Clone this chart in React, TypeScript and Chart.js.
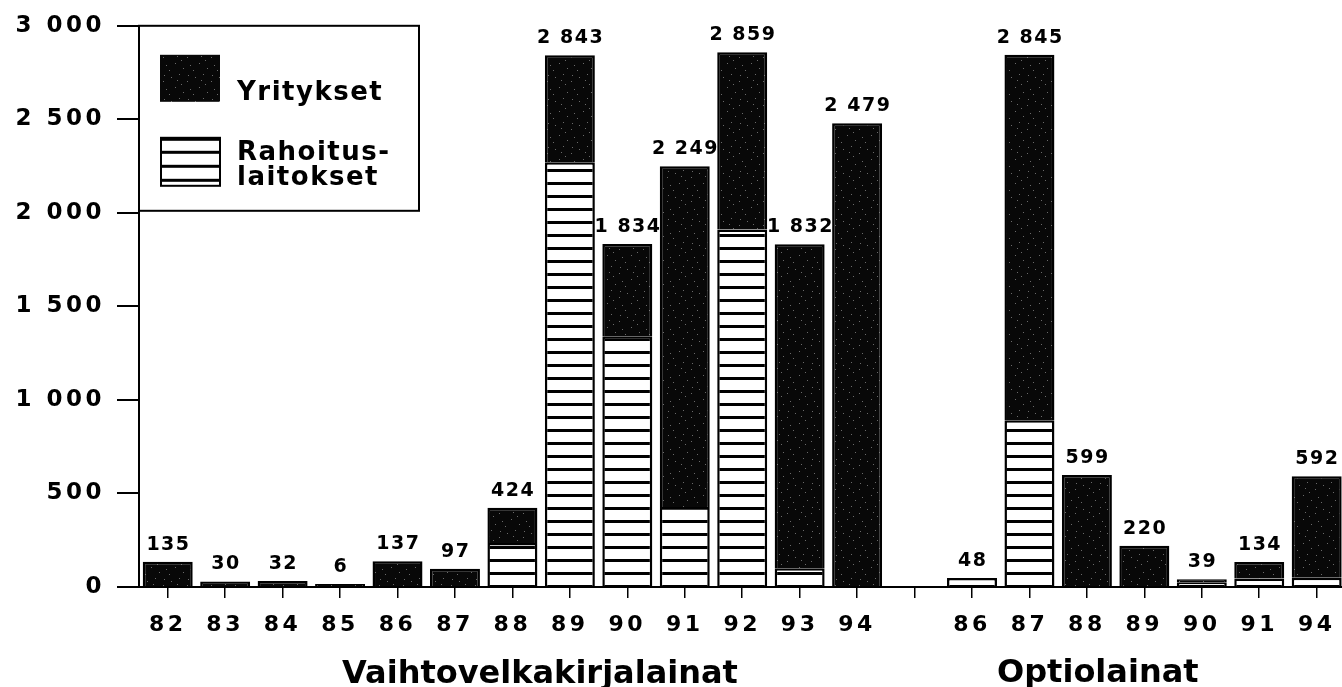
import React, { useEffect, useRef } from 'react';
import { Chart, registerables } from 'chart.js';

Chart.register(...registerables);

const categories = ['82', '83', '84', '85', '86', '87', '88', '89', '90', '91', '92', '93', '94', '', '86', '87', '88', '89', '90', '91', '94'];
const totals = [135, 30, 32, 6, 137, 97, 424, 2843, 1834, 2249, 2859, 1832, 2479, null, 48, 2845, 599, 220, 39, 134, 592];
const rahoituslaitokset = [null, null, null, null, null, null, 235, 2270, 1340, 427, 1911, 100, null, null, 48, 892, null, null, 25, 45, 50];
const yritykset = [135, 30, 32, 6, 137, 97, 189, 573, 494, 1822, 948, 1732, 2479, null, null, 1953, 599, 220, 14, 89, 542];
const yTicks = [0, 500, 1000, 1500, 2000, 2500, 3000];
const groupLabels = ['Vaihtovelkakirjalainat', 'Optiolainat'];
const legendLabels = ['Yritykset', 'Rahoitus-', 'laitokset'];

const FONT = '"DejaVu Sans", "Liberation Sans", Arial, sans-serif';

function fmt(v: number): string {
  return String(v).replace(/\B(?=(\d{3})+(?!\d))/g, ' ');
}

function makeStripe(ctx: CanvasRenderingContext2D): CanvasPattern | string {
  const c = document.createElement('canvas');
  c.width = 8;
  c.height = 13;
  const g = c.getContext('2d');
  if (!g) return '#fff';
  g.fillStyle = '#fff';
  g.fillRect(0, 0, 8, 13);
  g.fillStyle = '#000';
  g.fillRect(0, 0, 8, 3);
  return ctx.createPattern(c, 'repeat') || '#fff';
}

const SPECKS: Array<[number, number]> = [
  [3, 5], [11, 2], [19, 9], [7, 15], [15, 20], [22, 17], [1, 22], [13, 12], [20, 3], [9, 8],
];

function makeDark(ctx: CanvasRenderingContext2D): CanvasPattern | string {
  const c = document.createElement('canvas');
  c.width = 24;
  c.height = 24;
  const g = c.getContext('2d');
  if (!g) return '#080808';
  g.fillStyle = '#080808';
  g.fillRect(0, 0, 24, 24);
  g.fillStyle = '#6a6a6a';
  SPECKS.forEach(([x, y]) => g.fillRect(x, y, 1, 1));
  return ctx.createPattern(c, 'repeat') || '#080808';
}

export default function App() {
  const ref = useRef<HTMLCanvasElement | null>(null);

  useEffect(() => {
    const canvas = ref.current;
    if (!canvas) return;
    const ctx0 = canvas.getContext('2d') as CanvasRenderingContext2D;
    const stripe = makeStripe(ctx0);
    const dark = makeDark(ctx0);

    const spacingPlugin = {
      id: 'spacing',
      beforeDraw(chart: any) {
        (chart.ctx as any).letterSpacing = '3.5px';
      },
      beforeDatasetsDraw(chart: any) {
        (chart.ctx as any).letterSpacing = '0px';
      },
    };

    const labelsPlugin = {
      id: 'labels',
      afterDatasetsDraw(chart: any) {
        const ctx = chart.ctx as CanvasRenderingContext2D;
        ctx.save();
        (ctx as any).letterSpacing = '1.5px';
        ctx.font = `bold 19px ${FONT}`;
        ctx.fillStyle = '#000';
        ctx.textAlign = 'center';
        ctx.textBaseline = 'alphabetic';
        const m0 = chart.getDatasetMeta(0);
        const m1 = chart.getDatasetMeta(1);
        totals.forEach((t, i) => {
          if (t == null) return;
          const el = yritykset[i] != null ? m1.data[i] : m0.data[i];
          if (!el) return;
          ctx.fillText(fmt(t), el.x + 0.75, el.y - 12);
        });
        ctx.restore();
      },
      afterDraw(chart: any) {
        const ctx = chart.ctx as CanvasRenderingContext2D;
        const xs = chart.scales.x;
        ctx.save();
        ctx.fillStyle = '#000';
        // group labels
        (ctx as any).letterSpacing = '0px';
        ctx.font = `bold 32px ${FONT}`;
        ctx.textAlign = 'left';
        ctx.textBaseline = 'alphabetic';
        ctx.fillText(groupLabels[0], xs.getPixelForValue(3) + 2, 683);
        ctx.fillText(groupLabels[1], xs.getPixelForValue(14) + 25, 682);

        // legend
        const left = chart.chartArea.left;
        const top = chart.chartArea.top;
        ctx.fillStyle = '#fff';
        ctx.fillRect(left, top, 280, 185);
        ctx.strokeStyle = '#000';
        ctx.lineWidth = 2;
        ctx.strokeRect(left, top, 280, 185);

        ctx.fillStyle = dark as any;
        ctx.fillRect(left + 21, top + 29, 60, 47);

        const sx = left + 22;
        const sy = top + 112;
        ctx.fillStyle = '#fff';
        ctx.fillRect(sx, sy, 59, 48);
        ctx.fillStyle = '#000';
        [0, 13, 27, 41].forEach((o) => ctx.fillRect(sx, sy + o, 59, 3));
        ctx.lineWidth = 2;
        ctx.strokeRect(sx, sy, 59, 48);

        ctx.fillStyle = '#000';
        (ctx as any).letterSpacing = '1.5px';
        ctx.font = `bold 26px ${FONT}`;
        ctx.fillText(legendLabels[0], left + 98, top + 74);
        ctx.fillText(legendLabels[1], left + 98, top + 134);
        ctx.fillText(legendLabels[2], left + 98, top + 159);
        ctx.restore();
      },
    };

    const chart = new Chart(canvas, {
      type: 'bar',
      data: {
        labels: categories,
        datasets: [
          {
            label: 'Rahoituslaitokset',
            data: rahoituslaitokset as any,
            backgroundColor: stripe as any,
            borderColor: '#000',
            borderWidth: 2.5,
            barPercentage: 0.87,
            categoryPercentage: 1,
          },
          {
            label: 'Yritykset',
            data: yritykset as any,
            backgroundColor: dark as any,
            borderColor: '#000',
            borderWidth: 2.5,
            barPercentage: 0.87,
            categoryPercentage: 1,
            minBarLength: 3,
          },
        ],
      },
      options: {
        animation: false,
        responsive: false,
        maintainAspectRatio: false,
        devicePixelRatio: 1,
        layout: { padding: { top: 23, left: 0, right: 0, bottom: 0 } },
        plugins: {
          legend: { display: false },
          tooltip: { enabled: false },
          title: { display: false },
        },
        scales: {
          x: {
            stacked: true,
            afterFit: (s: any) => {
              s.height = 100;
            },
            grid: {
              display: true,
              drawOnChartArea: false,
              drawTicks: true,
              offset: false,
              tickLength: 11,
              color: '#000',
              lineWidth: 1.5,
            },
            border: { display: true, color: '#000', width: 2 },
            ticks: {
              color: '#000',
              font: { family: FONT, size: 22, weight: 'bold' },
              padding: 14,
              maxRotation: 0,
              autoSkip: false,
            },
          },
          y: {
            stacked: true,
            min: 0,
            max: 3000,
            afterFit: (s: any) => {
              s.width = 139;
            },
            afterBuildTicks: (s: any) => {
              s.ticks = yTicks.map((v) => ({ value: v }));
            },
            grid: {
              display: true,
              drawOnChartArea: false,
              drawTicks: true,
              tickLength: 22,
              color: '#000',
              lineWidth: 2,
            },
            border: { display: true, color: '#000', width: 2 },
            ticks: {
              color: '#000',
              font: { family: FONT, size: 23, weight: 'bold' },
              padding: 12,
              callback: (v: any) => fmt(Number(v)),
            },
          },
        },
      },
      plugins: [spacingPlugin, labelsPlugin],
    });

    return () => chart.destroy();
  }, []);

  return (
    <div
      style={{
        position: 'fixed',
        left: 0,
        top: 0,
        width: 1342,
        height: 687,
        overflow: 'hidden',
        background: '#fff',
      }}
    >
      <canvas ref={ref} width={1346} height={687} style={{ width: 1346, height: 687, display: 'block' }} />
    </div>
  );
}
